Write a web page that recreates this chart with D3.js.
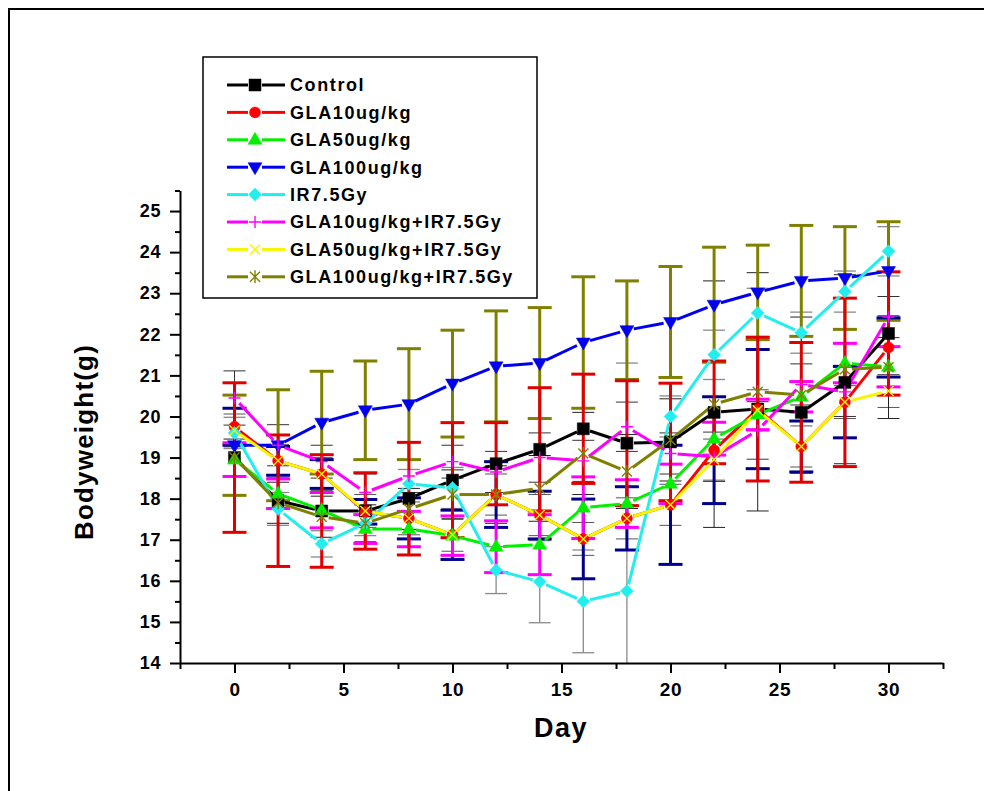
<!DOCTYPE html>
<html>
<head>
<meta charset="utf-8">
<script src="https://cdn.jsdelivr.net/npm/d3@7"></script>
<style>
  body { margin: 0; background: #fff; }
  svg { display: block; font-family: "Liberation Sans", Arial, sans-serif; font-weight: bold; }
</style>
</head>
<body>
<svg id="chart" width="984" height="791"></svg>
<script>
// ---- data ----
const days = [0, 2, 4, 6, 8, 10, 12, 14, 16, 18, 20, 22, 24, 26, 28, 30];

const control  = [19.0, 17.95, 17.7, 17.7, 18.0, 18.45, 18.85, 19.2, 19.7, 19.35, 19.38, 20.1, 20.18, 20.1, 20.83, 22.02];
const gla10    = [19.75, 18.92, 18.6, 17.68, 17.52, 17.12, 18.1, 17.6, 17.02, 17.52, 17.85, 19.18, 20.18, 19.27, 20.35, 21.68];
const gla50    = [18.95, 18.12, 17.72, 17.26, 17.26, 17.1, 16.83, 16.88, 17.78, 17.88, 18.36, 19.46, 20.05, 20.48, 21.3, 21.21];
const gla100   = [19.3, 19.3, 19.85, 20.15, 20.3, 20.8, 21.22, 21.3, 21.8, 22.1, 22.3, 22.72, 23.02, 23.3, 23.37, 23.54];
const ir       = [19.6, 17.75, 16.9, 17.4, 18.36, 18.26, 16.26, 15.98, 15.5, 15.75, 20.0, 21.5, 22.52, 22.04, 23.04, 24.02];
const gla10ir  = [20.45, 19.3, 18.9, 18.15, 18.55, 18.9, 18.65, 19.0, 18.92, 19.75, 19.1, 19.02, 19.66, 20.78, 20.6, 22.42];
const gla50ir  = [19.66, 18.92, 18.6, 17.7, 17.52, 17.12, 18.1, 17.6, 17.02, 17.52, 17.85, 18.95, 20.15, 19.27, 20.35, 20.62];
const gla100ir = [19.0, 17.9, 17.56, 17.4, 17.75, 18.1, 18.1, 18.25, 19.1, 18.66, 19.43, 20.3, 20.6, 20.52, 21.15, 21.2];

// +/- error of each group
const controlErr  = [1.82, 1.6, 1.37, 0.93, 1.37, 1.4, 1.0, 1.5, 1.33, 1.52, 1.43, 1.25, 1.75, 1.7, 2.05, 1.5];
const gla10Err    = [0.45, 0.35, 0.35, 0.3, 0.5, 0.6, 0.8, 0.58, 0.97, 0.77, 1.45, 1.3, 1.45, 0.62, 0.87, 0.72];
const gla50Err    = [0.41, 0.36, 0.43, 0.35, 0.43, 0.48, 0.63, 0.73, 0.75, 0.58, 0.48, 0.4, 0.37, 0.37, 0.48, 0.49];
const gla100Err   = [1.22, 1.35, 1.25, 1.2, 1.35, 1.3, 1.35, 1.35, 1.6, 1.2, 1.35, 1.4, 1.15, 1.35, 1.25, 1.2];
const irErr       = [0.38, 0.4, 0.32, 0.3, 0.35, 0.5, 0.57, 1.0, 1.25, 5.55, 0.5, 0.6, 0.6, 0.5, 0.5, 0.6];
const gla10irErr  = [0.66, 0.5, 0.4, 0.45, 0.4, 0.4, 0.5, 0.6, 0.5, 0.6, 0.5, 0.6, 0.7, 0.5, 0.6, 0.5];
const gla50irErr  = [0.4, 0.4, 0.4, 0.4, 0.4, 0.4, 0.5, 0.5, 0.4, 0.5, 0.5, 0.5, 0.5, 0.5, 0.4, 0.4];
const gla100irErr = [0.45, 0.5, 0.5, 0.45, 0.5, 0.6, 0.7, 0.8, 1.0, 0.9, 1.0, 3.0, 2.9, 1.9, 2.3, 1.25];

const names   = ['Control', 'GLA10ug/kg', 'GLA50ug/kg', 'GLA100ug/kg', 'IR7.5Gy',
                 'GLA10ug/kg+IR7.5Gy', 'GLA50ug/kg+IR7.5Gy', 'GLA100ug/kg+IR7.5Gy'];
const colors  = ['#000000', '#ff0000', '#00f000', '#0000ee', '#22eeee', '#ff00ff', '#f6f600', '#808000'];
const shapes  = ['square', 'circle', 'up', 'down', 'diamond', 'plus', 'cross', 'star'];
const errColors = ['#e00000', '#00008c', '#ff00ff', '#808000', '#8a8a8a', '#333333', '#555555', '#222222'];
const errWidths = [3, 3, 3, 3, 1.3, 1, 1, 1];

const xMajor = [0, 5, 10, 15, 20, 25, 30];
const yMajor = d3.range(14, 25.01, 1);

const values = [control, gla10, gla50, gla100, ir, gla10ir, gla50ir, gla100ir];
const errors = [controlErr, gla10Err, gla50Err, gla100Err, irErr, gla10irErr, gla50irErr, gla100irErr];

const series = names.map((name, k) => ({
  name,
  color: colors[k],
  shape: shapes[k],
  errColor: errColors[k],
  errWidth: errWidths[k],
  points: days.map((d, i) => ({ day: d, v: values[k][i], e: errors[k][i] }))
}));

// ---- layout ----
const svg = d3.select('#chart');
const x = d3.scaleLinear().domain([-2.5, 32.5]).range([180, 943]);
const y = d3.scaleLinear().domain([14, 25.5]).range([663, 190.5]);

svg.append('rect')
  .attr('x', 9).attr('y', 9).attr('width', 990).attr('height', 800)
  .attr('fill', 'none').attr('stroke', '#000').attr('stroke-width', 2);

svg.append('clipPath').attr('id', 'plotclip')
  .append('rect').attr('x', 175).attr('y', 150).attr('width', 780).attr('height', 513);

const markerPath = (shape) => {
  switch (shape) {
    case 'square':  return 'M-6,-6h12v12h-12Z';
    case 'circle':  return d3.symbol(d3.symbolCircle, Math.PI * 5.5 * 5.5)();
    case 'up':      return 'M0,-7.5L7,4.5L-7,4.5Z';
    case 'down':    return 'M0,7.5L7,-4.5L-7,-4.5Z';
    case 'diamond': return 'M0,-6.5L6.5,0L0,6.5L-6.5,0Z';
    case 'plus':    return 'M-6,0H6M0,-6V6';
    case 'cross':   return 'M-5,-5L5,5M-5,5L5,-5';
    case 'star':    return 'M-5,-5L5,5M-5,5L5,-5M0,-6.5V6.5';
  }
};
const isFilled = shape => ['square', 'circle', 'up', 'down', 'diamond'].includes(shape);

const drawMarker = (sel, s) => sel
  .attr('d', markerPath(s.shape))
  .attr('fill', isFilled(s.shape) ? s.color : 'none')
  .attr('stroke', s.color)
  .attr('stroke-width', isFilled(s.shape) ? 0.5 : 1.4);

// line segments between points, leaving a gap round each symbol
const gap = 7;
const gappedSegments = pts => {
  const segs = [];
  for (let i = 1; i < pts.length; i++) {
    const [x0, y0] = pts[i - 1], [x1, y1] = pts[i];
    const dx = x1 - x0, dy = y1 - y0, d = Math.hypot(dx, dy);
    if (d <= 2 * gap) continue;
    segs.push([x0 + dx / d * gap, y0 + dy / d * gap, x1 - dx / d * gap, y1 - dy / d * gap]);
  }
  return segs;
};

const plot = svg.append('g').attr('clip-path', 'url(#plotclip)');

// error bars: thin ones underneath, then the thick coloured ones
const errOrder = [4, 5, 6, 7, 3, 1, 2, 0];
errOrder.forEach(k => {
  const s = series[k];
  const capW = s.errWidth >= 2 ? 12 : 11;
  const g = plot.append('g')
    .attr('stroke', s.errColor)
    .attr('stroke-width', s.errWidth);
  g.selectAll('line.stem').data(s.points).join('line')
    .attr('class', 'stem')
    .attr('x1', d => x(d.day)).attr('x2', d => x(d.day))
    .attr('y1', d => y(d.v - d.e)).attr('y2', d => y(d.v + d.e));
  g.selectAll('line.capHi').data(s.points).join('line')
    .attr('class', 'capHi')
    .attr('x1', d => x(d.day) - capW).attr('x2', d => x(d.day) + capW)
    .attr('y1', d => y(d.v + d.e)).attr('y2', d => y(d.v + d.e));
  g.selectAll('line.capLo').data(s.points).join('line')
    .attr('class', 'capLo')
    .attr('x1', d => x(d.day) - capW).attr('x2', d => x(d.day) + capW)
    .attr('y1', d => y(d.v - d.e)).attr('y2', d => y(d.v - d.e));
});

// connecting lines
series.forEach(s => {
  const pts = s.points.map(d => [x(d.day), y(d.v)]);
  plot.append('g')
    .attr('stroke', s.color)
    .attr('stroke-width', 3)
    .selectAll('line').data(gappedSegments(pts)).join('line')
    .attr('x1', d => d[0]).attr('y1', d => d[1])
    .attr('x2', d => d[2]).attr('y2', d => d[3]);
});

// symbols
series.forEach(s => {
  plot.append('g').selectAll('path').data(s.points).join('path')
    .attr('transform', d => `translate(${x(d.day)},${y(d.v)})`)
    .call(sel => drawMarker(sel, s));
});

// ---- axes ----
const styleAxis = (g, fontSize) => {
  g.attr('font-family', null).attr('font-size', null);
  g.select('.domain').attr('stroke-width', 2);
  g.selectAll('.tick line').attr('stroke-width', 2);
  g.selectAll('.tick text').attr('font-size', fontSize).attr('fill', '#000').attr('letter-spacing', 0.6);
};

const xg = svg.append('g').attr('transform', 'translate(0,663)')
  .call(d3.axisBottom(x).tickValues(xMajor).tickSize(10).tickSizeOuter(0).tickPadding(10).tickFormat(d3.format('d')));
styleAxis(xg, 19);
const xm = svg.append('g').attr('transform', 'translate(0,663)')
  .call(d3.axisBottom(x).tickValues(d3.range(-2.5, 33, 5)).tickSize(6).tickFormat(''));
xm.select('.domain').remove();
xm.selectAll('.tick line').attr('stroke-width', 2);

const yg = svg.append('g').attr('transform', 'translate(180,0)')
  .call(d3.axisLeft(y).tickValues(yMajor).tickSize(10).tickSizeOuter(0).tickPadding(9).tickFormat(d3.format('d')));
styleAxis(yg, 18);
const ym = svg.append('g').attr('transform', 'translate(180,0)')
  .call(d3.axisLeft(y).tickValues(d3.range(14.5, 25.6, 1)).tickSize(5).tickFormat(''));
ym.select('.domain').remove();
ym.selectAll('.tick line').attr('stroke-width', 2);

svg.append('text')
  .attr('transform', 'translate(84,442) rotate(-90)')
  .attr('text-anchor', 'middle').attr('dy', '0.36em')
  .attr('font-size', 26).attr('letter-spacing', 1.2)
  .text('Bodyweight(g)');

svg.append('text')
  .attr('x', 561).attr('y', 737)
  .attr('text-anchor', 'middle')
  .attr('font-size', 27).attr('letter-spacing', 1.5)
  .text('Day');

// ---- legend ----
const legend = svg.append('g');
legend.append('rect')
  .attr('x', 203).attr('y', 57).attr('width', 334).attr('height', 241)
  .attr('fill', '#fff').attr('stroke', '#000').attr('stroke-width', 1.5);

const row = legend.selectAll('g.item').data(series).join('g')
  .attr('class', 'item')
  .attr('transform', (d, i) => `translate(0,${85 + i * 27.4})`);
row.append('line').attr('x1', 227).attr('x2', 248)
  .attr('stroke', d => d.color).attr('stroke-width', 3);
row.append('line').attr('x1', 262).attr('x2', 285)
  .attr('stroke', d => d.color).attr('stroke-width', 3);
row.each(function (s) {
  d3.select(this).append('path')
    .attr('transform', 'translate(255,0)')
    .call(sel => drawMarker(sel, s));
});
row.append('text')
  .attr('x', 290).attr('dy', '0.36em')
  .attr('font-size', 18).attr('letter-spacing', 1.6)
  .text(d => d.name);
</script>
</body>
</html>
